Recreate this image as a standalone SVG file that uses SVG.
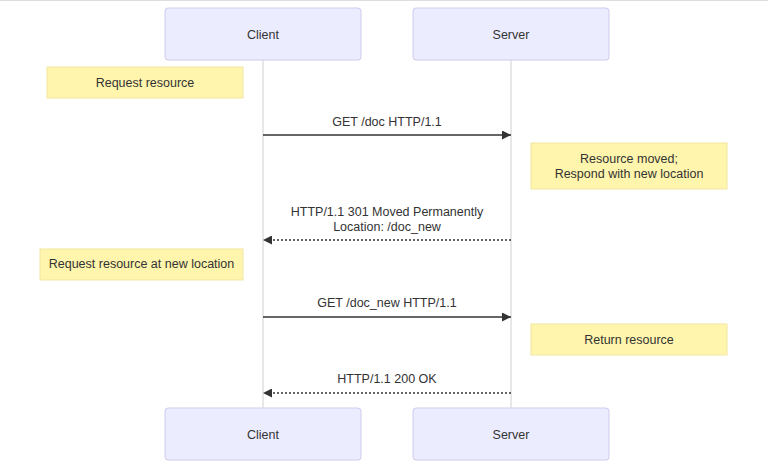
<svg xmlns="http://www.w3.org/2000/svg" width="768" height="467" viewBox="0 0 768 467">
<defs>
<style>
text{font-family:"Liberation Sans",Arial,sans-serif;font-size:12.5px;fill:#333;text-anchor:middle}
.actor rect{fill:#ECECFF;stroke:#CCCCEE;stroke-width:1}
.note rect{fill:#FFF5AD;stroke:#F2E6A0;stroke-width:1}
.life{stroke:#D0D0D0;stroke-width:1}
.msg{stroke:#333;stroke-width:1.3;fill:none}
.dot{stroke-dasharray:2,2}
</style>
<marker id="ah" viewBox="0 0 10 10" refX="10" refY="5" markerWidth="9" markerHeight="9" orient="auto-start-reverse" markerUnits="userSpaceOnUse">
<path d="M0,0 L10,5 L0,10 z" fill="#333"/>
</marker>
</defs>
<rect x="0" y="0" width="768" height="467" fill="#fff"/>
<line x1="0" y1="0.5" x2="768" y2="0.5" stroke="#ddd"/>
<g id="lifelines">
<line class="life" x1="263" y1="60" x2="263" y2="408"/>
<line class="life" x1="511" y1="60" x2="511" y2="408"/>
</g>
<g id="client-top" class="actor"><rect x="165" y="8" width="196" height="52" rx="3"/><text x="263" y="38.5">Client</text></g>
<g id="server-top" class="actor"><rect x="413" y="8" width="196" height="52" rx="3"/><text x="511" y="38.5">Server</text></g>
<g id="client-bottom" class="actor"><rect x="165" y="408" width="196" height="52" rx="3"/><text x="263" y="438.5">Client</text></g>
<g id="server-bottom" class="actor"><rect x="413" y="408" width="196" height="52" rx="3"/><text x="511" y="438.5">Server</text></g>
<g id="note1" class="note"><rect x="47" y="67" width="196" height="31"/><text x="145" y="86.5">Request resource</text></g>
<g id="note2" class="note"><rect x="531" y="143" width="196" height="46"/><text x="629" y="162.5">Resource moved;</text><text x="629" y="177.5">Respond with new location</text></g>
<g id="note3" class="note"><rect x="40" y="249" width="203" height="31"/><text x="141.5" y="268">Request resource at new location</text></g>
<g id="note4" class="note"><rect x="531" y="324" width="196" height="31"/><text x="629" y="343.5">Return resource</text></g>
<g id="connectors">
<line class="msg" x1="263" y1="135" x2="511" y2="135" marker-end="url(#ah)"/>
<text x="387" y="126">GET /doc HTTP/1.1</text>
<line class="msg dot" x1="511" y1="240" x2="263" y2="240" marker-end="url(#ah)"/>
<text x="387" y="215.5">HTTP/1.1 301 Moved Permanently</text>
<text x="387" y="230.5">Location: /doc_new</text>
<line class="msg" x1="263" y1="317" x2="511" y2="317" marker-end="url(#ah)"/>
<text x="387" y="306.5">GET /doc_new HTTP/1.1</text>
<line class="msg dot" x1="511" y1="393" x2="263" y2="393" marker-end="url(#ah)"/>
<text x="387" y="382.5">HTTP/1.1 200 OK</text>
</g>
</svg>
